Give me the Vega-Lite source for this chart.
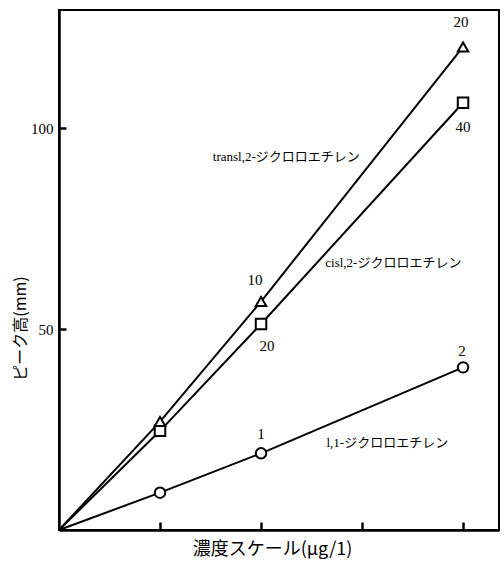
{
  "$schema": "https://vega.github.io/schema/vega-lite/v6.json",
  "autosize": "none",
  "width": 440,
  "height": 520,
  "padding": {"left": 59, "top": 10, "right": 5, "bottom": 31},
  "background": "white",
  "config": {
    "view": {"stroke": "black", "strokeWidth": 2},
    "font": "Liberation Serif, Noto Sans CJK JP"
  },
  "datasets": {
    "pts": [
      {"series": "l,1", "x": 0, "y": 0},
      {"series": "l,1", "x": 1, "y": 9.3},
      {"series": "l,1", "x": 2, "y": 19.1},
      {"series": "l,1", "x": 4, "y": 40.5},
      {"series": "cis", "x": 0, "y": 0},
      {"series": "cis", "x": 1, "y": 24.7},
      {"series": "cis", "x": 2, "y": 51.3},
      {"series": "cis", "x": 4, "y": 106.4},
      {"series": "trans", "x": 0, "y": 0},
      {"series": "trans", "x": 1, "y": 27.0},
      {"series": "trans", "x": 2, "y": 56.9},
      {"series": "trans", "x": 4, "y": 120.3}
    ],
    "labels": [
      {"text": "20", "x": 3.98, "y": 126.6, "size": 15},
      {"text": "40", "x": 4.0, "y": 100.4, "size": 15},
      {"text": "10", "x": 1.94, "y": 62.3, "size": 15},
      {"text": "20", "x": 2.06, "y": 45.7, "size": 15},
      {"text": "1", "x": 2.0, "y": 23.9, "size": 15},
      {"text": "2", "x": 3.99, "y": 44.6, "size": 15},
      {"text": "transl,2-ジクロロエチレン", "x": 2.25, "y": 92.9, "size": 13},
      {"text": "cisl,2-ジクロロエチレン", "x": 3.31, "y": 66.5, "size": 13},
      {"text": "l,1-ジクロロエチレン", "x": 3.25, "y": 21.7, "size": 13}
    ]
  },
  "encoding": {
    "x": {
      "field": "x", "type": "quantitative",
      "scale": {"domain": [0, 4.356], "nice": false, "zero": false},
      "axis": {
        "values": [1, 2, 3, 4], "labels": false, "grid": false,
        "tickSize": -8, "tickWidth": 2.5, "tickColor": "black",
        "domainColor": "black", "domainWidth": 2.5,
        "title": "濃度スケール(μg/1)", "titleFont": "Noto Sans CJK JP",
        "titleFontSize": 18, "titleFontWeight": "normal", "titleColor": "black",
        "titleX": 213, "titleY": 19, "titleAlign": "center", "titleBaseline": "middle"
      }
    },
    "y": {
      "field": "y", "type": "quantitative",
      "scale": {"domain": [0, 129.5], "nice": false},
      "axis": {
        "values": [50, 100], "grid": false,
        "tickSize": -7, "tickWidth": 2.5, "tickColor": "black",
        "domainColor": "black", "domainWidth": 2.5,
        "labelFont": "Liberation Serif", "labelFontSize": 15, "labelColor": "black",
        "labelPadding": 13,
        "title": "ピーク高(mm)", "titleFont": "Noto Sans CJK JP",
        "titleFontSize": 16, "titleFontWeight": "normal", "titleColor": "black",
        "titleX": -39, "titleY": 318, "titleAlign": "center", "titleBaseline": "middle", "titleAngle": -90
      }
    }
  },
  "layer": [
    {
      "data": {"name": "pts"},
      "mark": {"type": "line", "color": "black", "strokeWidth": 2},
      "encoding": {"detail": {"field": "series"}, "order": {"field": "x"}}
    },
    {
      "data": {"name": "pts"},
      "transform": [{"filter": "datum.x > 0"}],
      "mark": {"type": "point", "filled": false, "fill": "white", "fillOpacity": 1, "stroke": "black", "strokeWidth": 2, "opacity": 1, "size": 110},
      "encoding": {
        "shape": {
          "field": "series",
          "scale": {"domain": ["l,1", "cis", "trans"], "range": ["circle", "square", "triangle-up"]},
          "legend": null
        }
      }
    },
    {
      "data": {"name": "labels"},
      "mark": {"type": "text", "color": "black", "font": "Liberation Serif, Noto Sans CJK JP", "align": "center", "baseline": "middle"},
      "encoding": {
        "text": {"field": "text"},
        "size": {"field": "size", "type": "quantitative", "scale": null}
      }
    }
  ]
}
